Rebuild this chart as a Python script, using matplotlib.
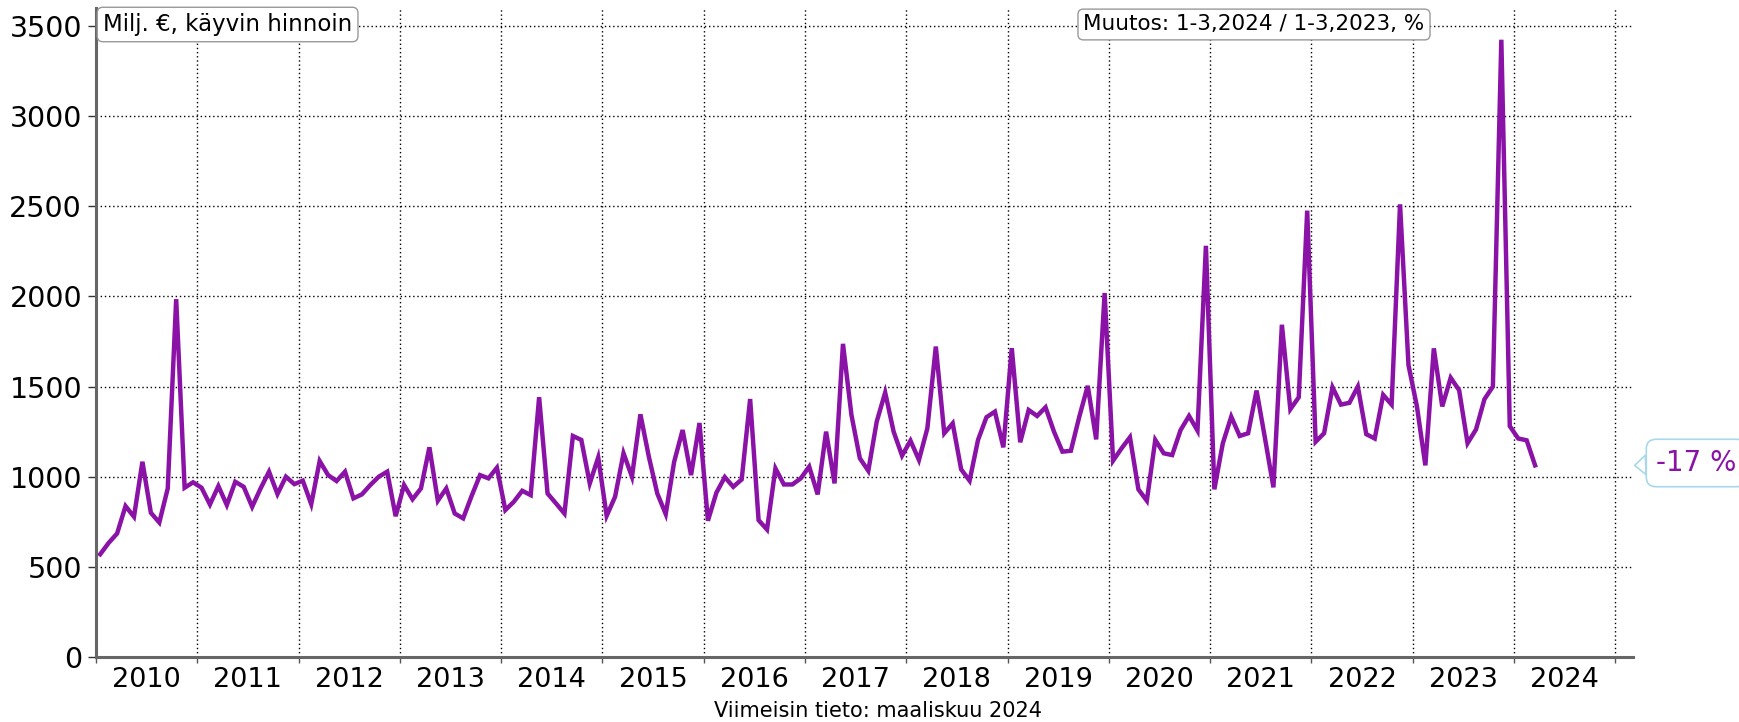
import matplotlib.pyplot as plt
import numpy as np

# kuukausiarvot, milj. €, käyvin hinnoin
v2010 = [570, 633, 685, 837, 778, 1083, 800, 746, 935, 1985, 939, 969]
v2011 = [939, 846, 948, 843, 972, 944, 833, 935, 1028, 904, 1000, 959]
v2012 = [978, 848, 1087, 1009, 976, 1028, 880, 902, 954, 1000, 1028, 781]
v2013 = [954, 875, 935, 1163, 867, 935, 796, 769, 893, 1009, 991, 1050]
v2014 = [815, 861, 922, 898, 1441, 907, 852, 796, 1226, 1204, 963, 1107]
v2015 = [783, 889, 1130, 1000, 1346, 1111, 907, 793, 1083, 1259, 1009, 1298]
v2016 = [756, 911, 998, 944, 985, 1431, 759, 707, 1046, 957, 957, 991]
v2017 = [1056, 902, 1250, 963, 1737, 1343, 1102, 1033, 1306, 1467, 1250, 1117]
v2018 = [1200, 1093, 1269, 1722, 1241, 1296, 1041, 978, 1204, 1330, 1361, 1163]
v2019 = [1713, 1191, 1370, 1337, 1385, 1250, 1139, 1144, 1333, 1504, 1207, 2019]
v2020 = [1089, 1157, 1219, 930, 867, 1204, 1130, 1120, 1259, 1337, 1256, 2281]
v2021 = [930, 1185, 1333, 1226, 1241, 1478, 1213, 941, 1843, 1374, 1441, 2476]
v2022 = [1194, 1241, 1496, 1400, 1410, 1500, 1236, 1212, 1454, 1400, 2511, 1619]
v2023 = [1390, 1063, 1712, 1390, 1549, 1480, 1186, 1262, 1430, 1500, 3424, 1281]
v2024 = [1212, 1202, 1063]

years = list(range(2010, 2025))
values = (v2010 + v2011 + v2012 + v2013 + v2014 + v2015 + v2016 + v2017
          + v2018 + v2019 + v2020 + v2021 + v2022 + v2023 + v2024)
change_label = "-17 %"
unit_label = "Milj. €, käyvin hinnoin"
change_title = "Muutos: 1-3,2024 / 1-3,2023, %"
footer = "Viimeisin tieto: maaliskuu 2024"

line_color = "#8b12a6"

fig = plt.figure(figsize=(17.4, 7.22), dpi=100)
ax = fig.add_axes([96 / 1740, 65 / 722, (1633 - 96) / 1740, (657 - 8) / 722])

x = np.arange(len(values))
ax.plot(x, values, color=line_color, lw=3.2, solid_joinstyle="miter", zorder=3)

ax.set_xlim(-0.5, 181.6)
ax.set_ylim(0, 3600)

# y-akseli
ax.set_yticks(range(0, 3501, 500))
ax.tick_params(axis="y", length=6, width=1, color="#333333", labelsize=20.5, pad=4)

# x-akseli: viivat vuosien rajoilla, vuosiluvut keskellä
ax.set_xticks(np.arange(-0.5, 180, 12))
ax.set_xticklabels([])
ax.set_xticks(np.arange(5.5, 180, 12), minor=True)
ax.set_xticklabels([str(y) for y in years], minor=True)
ax.tick_params(axis="x", which="major", length=4, width=1, color="#555555")
ax.tick_params(axis="x", which="minor", length=0, labelsize=19.5, pad=7)

ax.grid(True, which="major", color="black", linestyle=(0, (1, 2)), lw=1)

for s in ["top", "right"]:
    ax.spines[s].set_visible(False)
for s in ["left", "bottom"]:
    ax.spines[s].set_color("#666666")
    ax.spines[s].set_linewidth(2.2)
    ax.spines[s].set_zorder(4)

box = dict(boxstyle="round,pad=0.25", fc="white", ec="#999999", lw=1)
fig.text(103 / 1740, 1 - 24.5 / 722, unit_label, ha="left", va="center",
         fontsize=16.5, bbox=box)
fig.text(1254 / 1740, 1 - 24.5 / 722, change_title, ha="center", va="center",
         fontsize=15.5, bbox=box)

fig.text(878 / 1740, 1 - 711 / 722, footer, ha="center", va="center", fontsize=15)

# muutosprosentti oikeassa reunassa
ax.annotate(change_label, xy=(ax.get_xlim()[1] + 0.2, values[-1]),
            xytext=(1656, 722 - 463), textcoords="figure pixels",
            ha="left", va="center", fontsize=20, color=line_color,
            annotation_clip=False,
            bbox=dict(boxstyle="round,pad=0.35", fc="white", ec="#a8d8ea", lw=1.2),
            arrowprops=dict(arrowstyle="wedge,tail_width=0.7", fc="white",
                            ec="#a8d8ea", lw=1.2, shrinkA=0, shrinkB=0))

plt.savefig("out.png", dpi=100)
